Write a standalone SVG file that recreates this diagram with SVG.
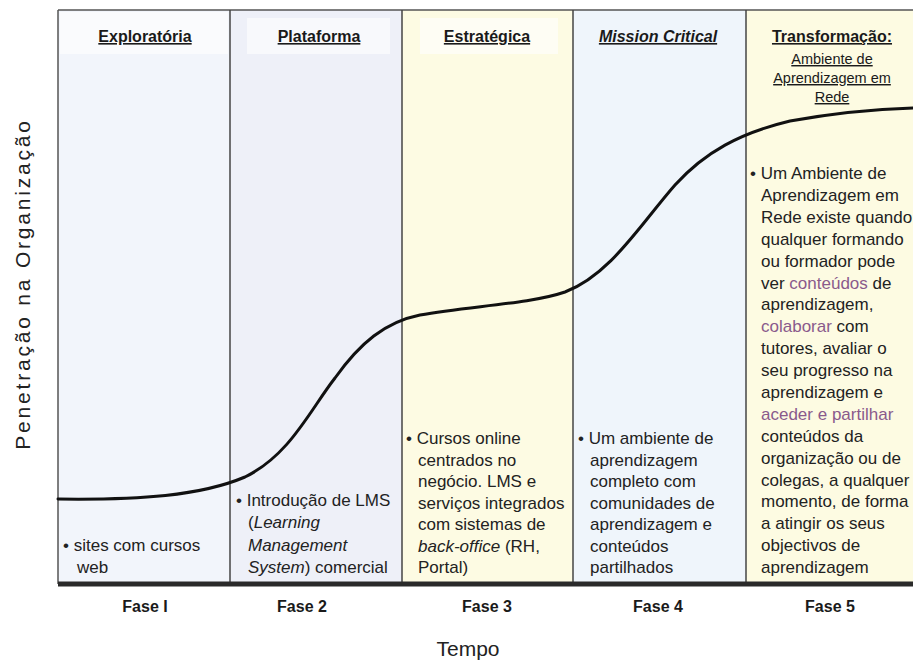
<svg xmlns="http://www.w3.org/2000/svg" width="913" height="663" viewBox="0 0 913 663">
<defs>
<style>
.hd{font-family:"Liberation Sans",Arial,sans-serif;font-size:16px;font-weight:bold;fill:#1a1a1a;text-anchor:middle;text-decoration:underline;}
.sub{font-family:"Liberation Sans",Arial,sans-serif;font-size:14.5px;fill:#1a1a1a;text-anchor:middle;text-decoration:underline;}
.bd{font-family:"Liberation Sans",Arial,sans-serif;font-size:17px;fill:#222;}
.it{font-style:italic;}
.hl{fill:#8a5a8c;}
.fase{font-family:"Liberation Sans Narrow","Liberation Sans",Arial,sans-serif;font-size:16px;font-weight:bold;fill:#1a1a1a;text-anchor:middle;}
.ax{font-family:"Liberation Sans",Arial,sans-serif;font-size:21px;fill:#222;text-anchor:middle;}
.div{stroke:#444;stroke-width:1.5;}
.hbox{fill:#ffffff;opacity:0.6;}
</style>
</defs>
<rect width="913" height="663" fill="#ffffff"/>
<g id="columns">
<rect x="58" y="10" width="172" height="574" fill="#f2f5fb"/>
<rect x="230" y="10" width="172" height="574" fill="#eef0f8"/>
<rect x="402" y="10" width="171" height="574" fill="#fdfbe3"/>
<rect x="573" y="10" width="173" height="574" fill="#eff5fb"/>
<rect x="746" y="10" width="167" height="574" fill="#fdfbe2"/>
<rect class="hbox" x="60" y="12" width="168" height="42"/>
<rect class="hbox" x="247" y="18" width="143" height="36"/>
<rect class="hbox" x="420" y="18" width="138" height="36"/>
</g>
<g id="frame">
<line x1="58" y1="10" x2="913" y2="10" stroke="#555" stroke-width="1.5"/>
<line x1="58" y1="10" x2="58" y2="584" stroke="#555" stroke-width="1.5"/>
<line class="div" x1="230" y1="10" x2="230" y2="584"/>
<line class="div" x1="402" y1="10" x2="402" y2="584"/>
<line class="div" x1="573" y1="10" x2="573" y2="584"/>
<line class="div" x1="746" y1="10" x2="746" y2="584"/>
<line x1="58" y1="584" x2="913" y2="584" stroke="#2a2a2a" stroke-width="5"/>
</g>
<g id="connectors">
<path d="M58,499 C140,500 200,496 245,477 C290,455 310,410 335,378 C360,343 385,322 420,315 C470,306 530,304 565,292 C610,275 640,225 675,185 C705,152 740,133 790,121 C840,112 880,109 913,108" fill="none" stroke="#111" stroke-width="3" stroke-linecap="round"/>
</g>
<g id="phase1">
<text class="hd" x="145" y="42">Exploratória</text>
<text class="bd" y="551"><tspan x="63">• sites com cursos</tspan><tspan x="77" dy="21.5">web</tspan></text>
<text class="fase" x="145" y="612">Fase I</text>
</g>
<g id="phase2">
<text class="hd" x="319" y="42">Plataforma</text>
<text class="bd" y="506"><tspan x="236">• Introdução de LMS</tspan><tspan x="248" dy="22.3">(<tspan class="it">Learning</tspan></tspan><tspan x="248" dy="22.3" class="it">Management</tspan><tspan x="248" dy="22.3"><tspan class="it">System</tspan>) comercial</tspan></text>
<text class="fase" x="302" y="612">Fase 2</text>
</g>
<g id="phase3">
<text class="hd" x="487" y="42">Estratégica</text>
<text class="bd" y="444"><tspan x="406">• Cursos online</tspan><tspan x="418" dy="21.5">centrados no</tspan><tspan x="418" dy="21.5">negócio. LMS e</tspan><tspan x="418" dy="21.5">serviços integrados</tspan><tspan x="418" dy="21.5">com sistemas de</tspan><tspan x="418" dy="21.5"><tspan class="it">back-office</tspan> (RH,</tspan><tspan x="418" dy="21.5">Portal)</tspan></text>
<text class="fase" x="487" y="612">Fase 3</text>
</g>
<g id="phase4">
<text class="hd" x="658" y="42" font-style="italic">Mission Critical</text>
<text class="bd" y="444"><tspan x="578">• Um ambiente de</tspan><tspan x="590" dy="21.5">aprendizagem</tspan><tspan x="590" dy="21.5">completo com</tspan><tspan x="590" dy="21.5">comunidades de</tspan><tspan x="590" dy="21.5">aprendizagem e</tspan><tspan x="590" dy="21.5">conteúdos</tspan><tspan x="590" dy="21.5">partilhados</tspan></text>
<text class="fase" x="658" y="612">Fase 4</text>
</g>
<g id="phase5">
<text class="hd" x="832" y="42">Transformação:</text>
<text class="sub" x="832" y="64">Ambiente de</text>
<text class="sub" x="832" y="83">Aprendizagem em</text>
<text class="sub" x="832" y="102">Rede</text>
<text class="bd" y="179"><tspan x="750">• Um Ambiente de</tspan><tspan x="761" dy="21.9">Aprendizagem em</tspan><tspan x="761" dy="21.9">Rede existe quando</tspan><tspan x="761" dy="21.9">qualquer formando</tspan><tspan x="761" dy="21.9">ou formador pode</tspan><tspan x="761" dy="21.9">ver <tspan class="hl">conteúdos</tspan> de</tspan><tspan x="761" dy="21.9">aprendizagem,</tspan><tspan x="761" dy="21.9"><tspan class="hl">colaborar</tspan> com</tspan><tspan x="761" dy="21.9">tutores, avaliar o</tspan><tspan x="761" dy="21.9">seu progresso na</tspan><tspan x="761" dy="21.9">aprendizagem e</tspan><tspan x="761" dy="21.9" class="hl">aceder e partilhar</tspan><tspan x="761" dy="21.9">conteúdos da</tspan><tspan x="761" dy="21.9">organização ou de</tspan><tspan x="761" dy="21.9">colegas, a qualquer</tspan><tspan x="761" dy="21.9">momento, de forma</tspan><tspan x="761" dy="21.9">a atingir os seus</tspan><tspan x="761" dy="21.9">objectivos de</tspan><tspan x="761" dy="21.9">aprendizagem</tspan></text>
<text class="fase" x="830" y="612">Fase 5</text>
</g>
<g id="axes">
<text class="ax" transform="translate(30,284) rotate(-90)" font-size="24" letter-spacing="2.8">Penetração na Organização</text>
<text class="ax" x="468" y="656" font-size="22">Tempo</text>
</g>
</svg>
